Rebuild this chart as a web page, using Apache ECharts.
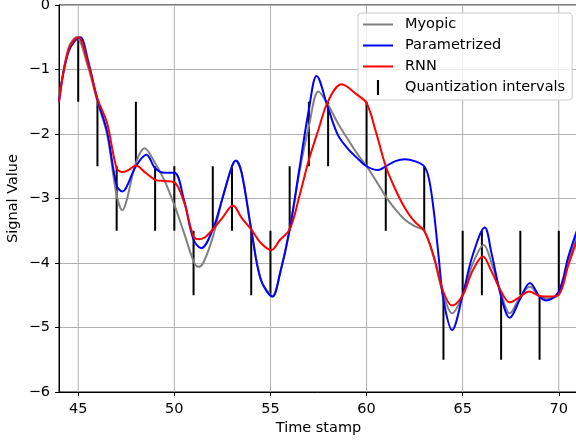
<!DOCTYPE html>
<html>
<head>
<meta charset="utf-8">
<script src="https://cdn.jsdelivr.net/npm/echarts@6/dist/echarts.min.js"></script>
<style>html,body{margin:0;padding:0;background:#fff;}#c{width:576px;height:440px;}</style>
</head>
<body>
<div id="c"></div>
<script>
// ---- data ----
const myopicX = [44, 44.5, 44.9, 45.5, 46, 46.5, 47, 47.3, 47.5, 48, 48.45, 49, 49.5, 50, 50.5, 51, 51.25, 51.5, 52, 52.5, 53, 53.2, 53.5, 54, 54.5, 55, 55.1, 55.5, 56, 56.5, 57, 57.5, 58, 58.5, 59, 59.5, 60, 60.5, 61, 61.5, 62, 62.5, 63, 63.5, 64, 64.45, 65, 65.5, 66.1, 66.5, 67, 67.45, 68, 68.5, 69, 69.4, 70, 70.5, 71];
const myopicY = [-1.45, -0.66, -0.5, -0.95, -1.5, -2.0, -2.95, -3.18, -3.05, -2.45, -2.22, -2.45, -2.73, -3.1, -3.53, -3.97, -4.06, -4.0, -3.6, -3.0, -2.5, -2.42, -2.6, -3.48, -4.26, -4.5, -4.52, -4.16, -3.48, -2.6, -1.88, -1.34, -1.55, -1.83, -2.07, -2.3, -2.5, -2.73, -2.97, -3.17, -3.33, -3.43, -3.5, -3.92, -4.5, -4.78, -4.5, -4.03, -3.72, -4.0, -4.47, -4.78, -4.52, -4.37, -4.52, -4.55, -4.49, -3.97, -3.53];
const paramX = [44, 44.5, 45.1, 45.5, 46, 46.5, 47, 47.3, 47.5, 48, 48.55, 49, 49.5, 50, 50.5, 51, 51.4, 52, 52.5, 53, 53.2, 53.5, 54, 54.5, 55.1, 55.5, 56, 56.5, 57, 57.4, 58, 58.5, 59, 59.5, 60, 60.6, 61, 61.5, 62, 62.5, 63, 63.25, 63.5, 63.75, 64, 64.45, 65, 65.5, 66.15, 66.5, 67, 67.45, 68, 68.5, 69, 69.35, 70, 70.5, 71];
const paramY = [-1.5, -0.72, -0.5, -0.85, -1.47, -1.96, -2.8, -2.89, -2.83, -2.5, -2.32, -2.53, -2.6, -2.6, -3.02, -3.64, -3.77, -3.48, -3.0, -2.5, -2.41, -2.6, -3.48, -4.26, -4.52, -4.16, -3.48, -2.55, -1.62, -1.1, -1.6, -2.01, -2.22, -2.37, -2.5, -2.56, -2.5, -2.42, -2.39, -2.42, -2.5, -2.7, -3.2, -3.9, -4.57, -5.04, -4.5, -3.9, -3.45, -3.85, -4.52, -4.85, -4.55, -4.31, -4.52, -4.58, -4.44, -3.9, -3.45];
const rnnX = [44, 44.5, 45, 45.5, 46, 46.5, 47, 47.3, 47.6, 48, 48.5, 49, 49.5, 50, 50.5, 51, 51.3, 51.6, 52, 52.5, 53.05, 53.5, 54, 54.5, 55.05, 55.5, 56, 56.5, 57, 57.5, 58, 58.7, 59.5, 60, 60.5, 61, 61.5, 62, 62.5, 63, 63.5, 64, 64.45, 65, 65.5, 66.05, 66.5, 67, 67.45, 68, 68.45, 69, 69.5, 70, 70.5, 71];
const rnnY = [-1.5, -0.69, -0.5, -0.9, -1.45, -1.83, -2.53, -2.59, -2.56, -2.49, -2.6, -2.71, -2.73, -2.75, -3.05, -3.59, -3.63, -3.6, -3.48, -3.3, -3.11, -3.3, -3.48, -3.69, -3.8, -3.64, -3.48, -2.97, -2.4, -1.93, -1.49, -1.23, -1.39, -1.52, -1.98, -2.5, -2.86, -3.15, -3.36, -3.5, -3.9, -4.45, -4.66, -4.5, -4.13, -3.9, -4.13, -4.44, -4.61, -4.52, -4.44, -4.51, -4.52, -4.49, -4.03, -3.6];
const quantX  = [44, 45, 46, 47, 48, 49, 50, 51, 52, 53, 54, 55, 56, 57, 58, 60, 61, 63, 64, 65, 66, 67, 68, 69, 70];
const quantLo = [-1.5, -1.5, -2.5, -3.5, -2.5, -3.5, -3.5, -4.5, -3.5, -3.5, -4.5, -4.5, -3.5, -2.5, -2.5, -2.5, -3.5, -3.5, -5.5, -4.5, -4.5, -5.5, -4.5, -5.5, -4.5];
const quantHi = [-0.5, -0.5, -1.5, -2.5, -1.5, -2.5, -2.5, -3.5, -2.5, -2.5, -3.5, -3.5, -2.5, -1.5, -1.5, -1.5, -2.5, -2.5, -4.5, -3.5, -3.5, -4.5, -3.5, -4.5, -3.5];
const xTicks = [45, 50, 55, 60, 65, 70];
const yMin = -6, yMax = 0;

const pairs = (xs, ys) => xs.map((x, i) => [x, ys[i]]);
const FONT = 'DejaVu Sans';
const FS = 14.5;

const chart = echarts.init(document.getElementById('c'), null, {renderer: 'canvas'});
const lineSeries = (name, xs, ys, color) => ({
  name, type: 'line', data: pairs(xs, ys), smooth: 0.35, symbol: 'none', showSymbol: false,
  lineStyle: {color, width: 2}, itemStyle: {color}, z: 5, animation: false, clip: true
});
const LINE_ICON = 'path://M0,0h30v2h-30z';

chart.setOption({
  animation: false,
  grid: {left: 59, top: 5, width: 519, height: 387, show: true, borderColor: '#000', borderWidth: 1,
         backgroundColor: 'transparent', outerBoundsMode: 'none', containLabel: false},
  xAxis: {
    type: 'value', min: 44, max: 71,
    name: 'Time stamp', nameLocation: 'middle', nameGap: 29, nameMoveOverlap: false,
    nameTextStyle: {fontFamily: FONT, fontSize: FS, color: '#000'},
    axisLine: {show: true, onZero: false, lineStyle: {color: '#000', width: 1}},
    axisTick: {show: true, length: 4, lineStyle: {color: '#000', width: 1}, customValues: xTicks},
    axisLabel: {customValues: xTicks, fontFamily: FONT, fontSize: FS, color: '#000', margin: 10},
    splitLine: {show: false}
  },
  yAxis: {
    type: 'value', min: yMin, max: yMax, interval: 1,
    name: 'Signal Value', nameLocation: 'middle', nameGap: 38, nameMoveOverlap: false,
    nameTextStyle: {fontFamily: FONT, fontSize: FS, color: '#000'},
    axisLine: {show: true, onZero: false, lineStyle: {color: '#000', width: 1}},
    axisTick: {show: true, length: 4, lineStyle: {color: '#000', width: 1}},
    axisLabel: {fontFamily: FONT, fontSize: FS, color: '#000', margin: 9,
      formatter: v => String(v).replace('-', '\u2212')},
    splitLine: {show: true, lineStyle: {color: '#b0b0b0', width: 1}}
  },
  legend: {
    data: [
      {name: 'Myopic', icon: LINE_ICON},
      {name: 'Parametrized', icon: LINE_ICON},
      {name: 'RNN', icon: LINE_ICON},
      {name: 'Quantization intervals', icon: 'path://M0,0h2v14h-2z'}
    ],
    orient: 'vertical', left: 358, top: 13,
    padding: [4, 7, 5, 5], itemWidth: 30, itemHeight: 15, itemGap: 6,
    backgroundColor: 'rgba(255,255,255,0.8)', borderColor: '#cccccc', borderWidth: 1, borderRadius: 3,
    textStyle: {fontFamily: FONT, fontSize: FS, color: '#000', lineHeight: 15, padding: [0, 0, 0, 7]},
    selectedMode: false
  },
  series: [
    {
      name: 'grid-x', type: 'custom', z: 1, silent: true, clip: true,
      data: xTicks.map(v => [v]),
      renderItem: (params, api) => {
        const a = api.coord([api.value(0), yMin]);
        const b = api.coord([api.value(0), yMax]);
        return {type: 'line', shape: {x1: a[0], y1: a[1], x2: b[0], y2: b[1]},
                style: {stroke: '#b0b0b0', lineWidth: 1}};
      }
    },
    {
      name: 'Quantization intervals', type: 'custom', z: 3, clip: true,
      itemStyle: {color: '#000'},
      data: quantX.map((x, i) => [x, quantLo[i], quantHi[i]]),
      renderItem: (params, api) => {
        const a = api.coord([api.value(0), api.value(1)]);
        const b = api.coord([api.value(0), api.value(2)]);
        return {type: 'line', shape: {x1: a[0], y1: a[1], x2: b[0], y2: b[1]},
                style: {stroke: '#000', lineWidth: 2}};
      }
    },
    lineSeries('Myopic', myopicX, myopicY, '#808080'),
    lineSeries('Parametrized', paramX, paramY, '#0000ff'),
    lineSeries('RNN', rnnX, rnnY, '#ff0000')
  ]
});
</script>
</body>
</html>
